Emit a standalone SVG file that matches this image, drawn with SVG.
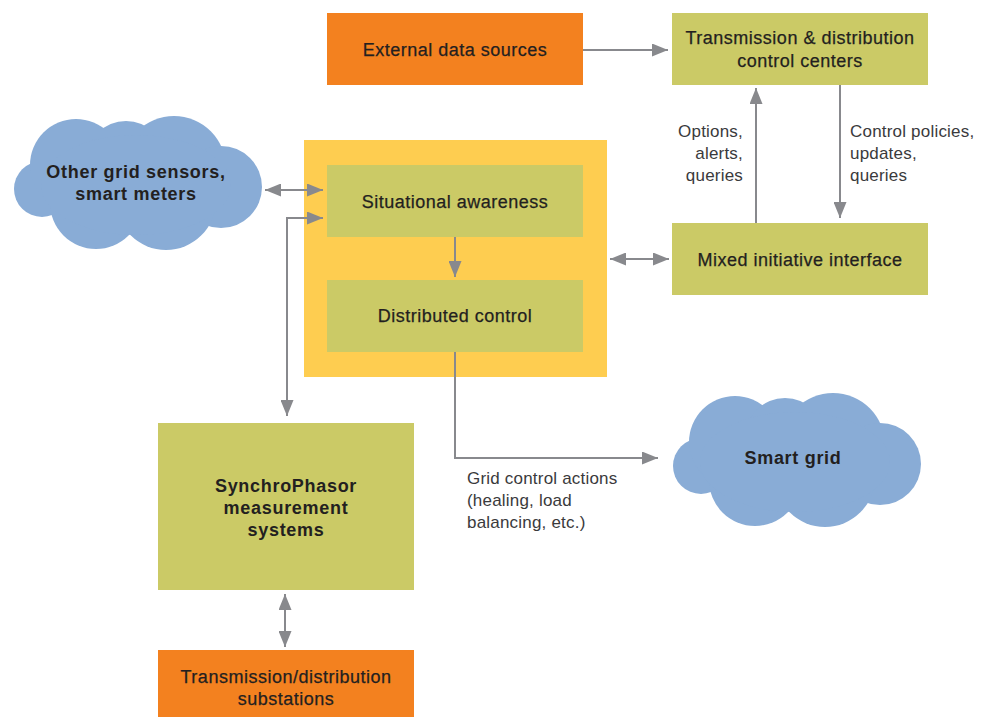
<svg xmlns="http://www.w3.org/2000/svg" xmlns:xlink="http://www.w3.org/1999/xlink" width="995" height="717" viewBox="0 0 995 717">
<style>
.orange{fill:#F3811F}
.green{fill:#CBCA66}
.yellow{fill:#FECD50}
.cloud{fill:#89ACD6}
.t{font-family:"Liberation Sans",Arial,sans-serif;fill:#231F20;text-anchor:middle}
.m{font-size:18px;letter-spacing:0.5px;stroke:#231F20;stroke-width:0.25}
.b{font-size:18px;font-weight:bold;letter-spacing:0.7px}
.s{font-family:"Liberation Sans",Arial,sans-serif;fill:#3a3a3c;font-size:17px;letter-spacing:0.2px}
.c{fill:none;stroke:#88898D;stroke-width:2}
</style>
<defs>
<marker id="ah" markerUnits="userSpaceOnUse" markerWidth="17" markerHeight="13" refX="16" refY="6.5" orient="auto-start-reverse">
<path d="M0,0 L16,6.5 L0,13 z" fill="#88898D"/>
</marker>
<g id="cloudshape" class="cloud">
<circle cx="28" cy="74" r="28"/>
<circle cx="62" cy="50" r="46"/>
<circle cx="112" cy="46" r="40"/>
<circle cx="160" cy="53" r="52"/>
<circle cx="207" cy="72" r="41"/>
<circle cx="82" cy="88" r="46"/>
<circle cx="152" cy="85" r="50"/>
<ellipse cx="122" cy="70" rx="95" ry="50"/>
</g>
</defs>

<g id="external">
<rect class="orange" x="327" y="13" width="256" height="72"/>
<text class="t m" x="455" y="56">External data sources</text>
</g>

<g id="tdcenters">
<rect class="green" x="672" y="13" width="256" height="72"/>
<text class="t m" x="800" y="44">Transmission &amp; distribution</text>
<text class="t m" x="800" y="67">control centers</text>
</g>

<g id="mixed">
<rect class="green" x="672" y="223" width="256" height="72"/>
<text class="t m" x="800" y="266">Mixed initiative interface</text>
</g>

<g id="core">
<rect class="yellow" x="304" y="140" width="303" height="237"/>
</g>

<g id="situational">
<rect class="green" x="327" y="165" width="256" height="72"/>
<text class="t m" x="455" y="208">Situational awareness</text>
</g>

<g id="distributed">
<rect class="green" x="327" y="280" width="256" height="72"/>
<text class="t m" x="455" y="322">Distributed control</text>
</g>

<g id="sensors">
<use xlink:href="#cloudshape" transform="translate(14,115)"/>
<text class="t b" x="136" y="178">Other grid sensors,</text>
<text class="t b" x="136" y="200">smart meters</text>
</g>

<g id="smartgrid">
<use xlink:href="#cloudshape" transform="translate(673,392)"/>
<text class="t b" x="793" y="464">Smart grid</text>
</g>

<g id="spms">
<rect class="green" x="158" y="423" width="256" height="167"/>
<text class="t b" x="286" y="492">SynchroPhasor</text>
<text class="t b" x="286" y="514">measurement</text>
<text class="t b" x="286" y="536">systems</text>
</g>

<g id="substations">
<rect class="orange" x="158" y="650" width="256" height="67"/>
<text class="t m" x="286" y="683">Transmission/distribution</text>
<text class="t m" x="286" y="705">substations</text>
</g>

<g id="labels">
<text class="s" x="743" y="137" text-anchor="end">Options,</text>
<text class="s" x="743" y="159" text-anchor="end">alerts,</text>
<text class="s" x="743" y="181" text-anchor="end">queries</text>
<text class="s" x="850" y="137">Control policies,</text>
<text class="s" x="850" y="159">updates,</text>
<text class="s" x="850" y="181">queries</text>
<text class="s" x="467" y="484">Grid control actions</text>
<text class="s" x="467" y="506">(healing, load</text>
<text class="s" x="467" y="528">balancing, etc.)</text>
</g>

<g id="connectors">
<path class="c" d="M583,50 L668,50" marker-end="url(#ah)"/>
<path class="c" d="M756,223 L756,88" marker-end="url(#ah)"/>
<path class="c" d="M840,85 L840,218" marker-end="url(#ah)"/>
<path class="c" d="M610,259 L669,259" marker-start="url(#ah)" marker-end="url(#ah)"/>
<path class="c" d="M265,190 L323,190" marker-start="url(#ah)" marker-end="url(#ah)"/>
<path class="c" d="M287,416 L287,218 L323,218" marker-start="url(#ah)" marker-end="url(#ah)"/>
<path class="c" d="M455,237 L455,277" marker-end="url(#ah)"/>
<path class="c" d="M455,352 L455,458 L658,458" marker-end="url(#ah)"/>
<path class="c" d="M285,594 L285,647" marker-start="url(#ah)" marker-end="url(#ah)"/>
</g>
</svg>
